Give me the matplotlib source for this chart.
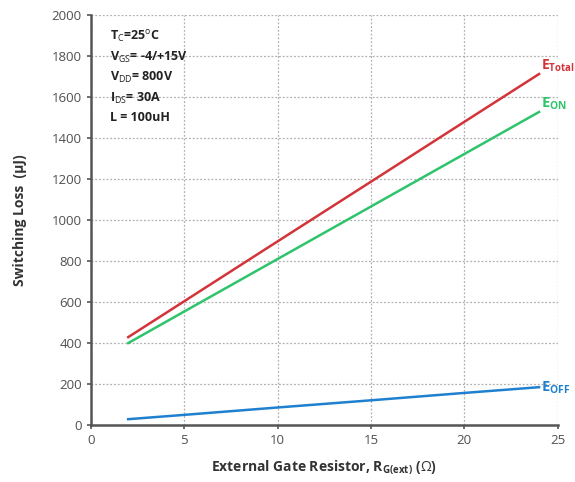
import matplotlib.pyplot as plt

# Switching loss vs external gate resistor
r_gate = [2, 5, 10, 15, 20, 24]
e_total = [429, 604, 896, 1187, 1479, 1712]
e_on = [400, 554, 810, 1066, 1322, 1527]
e_off = [29, 50, 86, 121, 157, 185]

plt.rcParams['font.family'] = ['Open Sans', 'DejaVu Sans']
plt.rcParams['mathtext.fontset'] = 'custom'
plt.rcParams['mathtext.rm'] = 'Open Sans'
plt.rcParams['mathtext.bf'] = 'Open Sans:bold'

fig = plt.figure(figsize=(5.75, 4.82), dpi=100)
ax = fig.add_axes([0.158, 0.118, 0.812, 0.851])

ax.plot(r_gate, e_total, color='#d3343a', lw=1.8)
ax.plot(r_gate, e_on, color='#2ec46c', lw=1.8)
ax.plot(r_gate, e_off, color='#2080d0', lw=1.8)

ax.set_xlim(0, 25)
ax.set_ylim(0, 2000)
ax.set_xticks(range(0, 26, 5))
ax.set_yticks(range(0, 2001, 200))
ax.grid(True, color='#b0b0b0', linestyle=(0, (1.5, 1.5)), lw=0.9)
ax.set_axisbelow(True)

for s in ('top', 'right'):
    ax.spines[s].set_visible(False)
for s in ('left', 'bottom'):
    ax.spines[s].set_color('#555555')
    ax.spines[s].set_linewidth(1.8)
ax.tick_params(colors='#555555', labelcolor='#505050', labelsize=9.5, length=3, width=1.2)

ax.set_xlabel(r'External Gate Resistor, R$_{\mathbf{G(ext)}}$ ($\Omega$)',
              fontsize=10, fontweight='bold', color='#333333', labelpad=8)
ax.set_ylabel('Switching Loss  (µJ)', fontsize=10, fontweight='bold',
              color='#333333', labelpad=18)

# Curve labels at the right end
ax.text(24.1, 1712, r'$\mathbf{E}_{\mathbf{Total}}$', color='#d3343a', fontsize=10,
        va='bottom')
ax.text(24.1, 1527, r'$\mathbf{E}_{\mathbf{ON}}$', color='#2ec46c', fontsize=10.5,
        va='bottom')
ax.text(24.1, 185, r'$\mathbf{E}_{\mathbf{OFF}}$', color='#2080d0', fontsize=10.5,
        va='center')

# Test conditions box
cond = [r'T$_\mathrm{C}$=25$^\mathrm{o}$C', r'V$_\mathrm{GS}$= -4/+15V',
        r'V$_\mathrm{DD}$= 800V', r'I$_\mathrm{DS}$= 30A', 'L = 100uH']
for i, t in enumerate(cond):
    ax.text(1.0, 1930 - i * 100, t, fontsize=9, fontweight='bold',
            color='#222222', va='top')
ax.add_patch(plt.Rectangle((0.3, 1470), 5.3, 510, fc='white', ec='none', zorder=0.5))

fig.savefig('out.png', dpi=100)
